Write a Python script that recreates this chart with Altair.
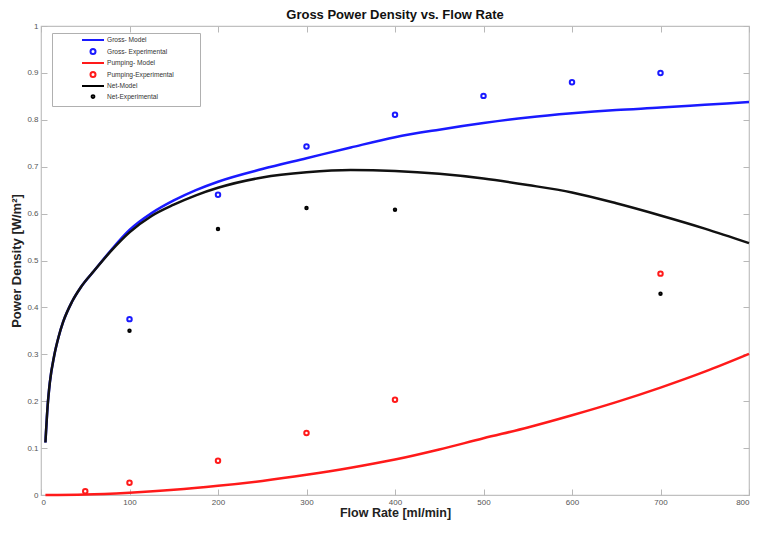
import altair as alt
import pandas as pd

# ---- data ----
model_x = [5, 7.5, 10, 15, 20, 25, 35, 45, 60, 80, 100, 125, 150, 175, 200, 250,
           300, 350, 400, 450, 500, 550, 600, 650, 700, 750, 800]
gross_model = [0.112, 0.190, 0.240, 0.298, 0.338, 0.369, 0.412, 0.443, 0.478, 0.524,
               0.565, 0.601, 0.628, 0.650, 0.668, 0.695, 0.718, 0.741, 0.763, 0.779,
               0.793, 0.805, 0.814, 0.821, 0.826, 0.832, 0.838]
net_model = [0.112, 0.190, 0.240, 0.298, 0.338, 0.369, 0.412, 0.443, 0.478, 0.522,
             0.560, 0.595, 0.619, 0.639, 0.655, 0.677, 0.688, 0.693, 0.691, 0.685,
             0.675, 0.661, 0.645, 0.622, 0.596, 0.568, 0.537]
pump_x = [5, 50, 100, 150, 200, 250, 300, 350, 400, 450, 500, 550, 600, 650, 700, 750, 800]
pump_model = [0.0, 0.001, 0.005, 0.011, 0.0195, 0.030, 0.043, 0.058, 0.0755, 0.097,
              0.121, 0.144, 0.170, 0.198, 0.229, 0.263, 0.301]

gross_exp_x = [100, 200, 300, 400, 500, 600, 700]
gross_exp = [0.375, 0.640, 0.743, 0.811, 0.851, 0.880, 0.900]
pump_exp_x = [50, 100, 200, 300, 400, 700]
pump_exp = [0.008, 0.026, 0.073, 0.132, 0.203, 0.472]
net_exp_x = [100, 200, 300, 400, 700]
net_exp = [0.350, 0.567, 0.612, 0.608, 0.429]

series = ["Gross- Model", "Gross- Experimental", "Pumping- Model",
          "Pumping-Experimental", "Net-Model", "Net-Experimental"]
colors = ["#1a1aff", "#1a1aff", "#ff1a1a", "#ff1a1a", "#000000", "#000000"]
line_sym = "M-4.4,0L4.4,0"
dot_sym = "M-0.55,0A0.55,0.55 0 1,0 0.55,0A0.55,0.55 0 1,0 -0.55,0Z"
shapes = [line_sym, "circle", line_sym, "circle", line_sym, dot_sym]

gross_df = pd.DataFrame({"x": model_x, "y": gross_model})
net_df = pd.DataFrame({"x": model_x, "y": net_model})
pump_df = pd.DataFrame({"x": pump_x, "y": pump_model})
exp_df = pd.concat([
    pd.DataFrame({"x": gross_exp_x, "y": gross_exp, "s": series[1]}),
    pd.DataFrame({"x": pump_exp_x, "y": pump_exp, "s": series[3]}),
    pd.DataFrame({"x": net_exp_x, "y": net_exp, "s": series[5]}),
])

FONT = "Liberation Sans"
xscale = alt.Scale(domain=[0, 800], nice=False)
yscale = alt.Scale(domain=[0, 1], nice=False)
xvals = list(range(0, 801, 100))
yvals = [i / 10 for i in range(11)]

x_main = alt.X("x:Q", scale=xscale, axis=alt.Axis(
    orient="bottom", values=xvals, format="d", title="Flow Rate [ml/min]",
    offset=-6, tickSize=6, domain=False, grid=False, labelPadding=3,
    labelFontSize=8, labelColor="#555555", labelFont=FONT, tickColor="#b8b8b8",
    titleFont=FONT, titleFontSize=12.5, titleFontWeight="bold", titleColor="#222222",
    titlePadding=0))
y_main = alt.Y("y:Q", scale=yscale, axis=alt.Axis(
    orient="left", values=yvals, format="~g", title="Power Density [W/m²]",
    offset=-6, tickSize=6, domain=False, grid=False, labelPadding=3,
    labelFontSize=8, labelColor="#555555", labelFont=FONT, tickColor="#b8b8b8",
    titleFont=FONT, titleFontSize=13, titleFontWeight="bold", titleColor="#222222",
    titlePadding=3))

gross_line = alt.Chart(gross_df).mark_line(color="#1a1aff", strokeWidth=2.5,
                                           interpolate="monotone").encode(x=x_main, y=y_main)
net_line = alt.Chart(net_df).mark_line(color="#111111", strokeWidth=2.5,
                                       interpolate="monotone").encode(
    x=alt.X("x:Q", scale=xscale, axis=None), y=alt.Y("y:Q", scale=yscale, axis=None))
pump_line = alt.Chart(pump_df).mark_line(color="#ff1a1a", strokeWidth=2.5,
                                         interpolate="monotone").encode(
    x=alt.X("x:Q", scale=xscale, axis=None), y=alt.Y("y:Q", scale=yscale, axis=None))

pts = alt.Chart(exp_df).mark_point(filled=False, strokeWidth=2, size=20, opacity=1).encode(
    x=alt.X("x:Q", scale=xscale, axis=alt.Axis(
        orient="top", values=xvals, labels=False, title=None, offset=-6, tickSize=6,
        domain=False, grid=False, tickColor="#b8b8b8")),
    y=alt.Y("y:Q", scale=yscale, axis=alt.Axis(
        orient="right", values=yvals, labels=False, title=None, offset=-6, tickSize=6,
        domain=False, grid=False, tickColor="#b8b8b8")),
    color=alt.Color("s:N", scale=alt.Scale(domain=series, range=colors), legend=alt.Legend(
        orient="none", legendX=11, legendY=7, title="\u00a0", titleOrient="right",
        titlePadding=23, titleFontSize=6, strokeColor="#b0b0b0",
        fillColor="white", padding=3.5, symbolSize=25, symbolStrokeWidth=2,
        symbolOffset=34, labelOffset=10.5, labelFontSize=6.6, labelFont=FONT,
        labelColor="#333333", rowPadding=0.5)),
    shape=alt.Shape("s:N", scale=alt.Scale(domain=series, range=shapes)),
)

chart = alt.layer(gross_line, net_line, pump_line, pts).resolve_axis(
    x="independent", y="independent"
).properties(
    width=708, height=469,
    autosize=alt.AutoSizeParams(type="none"),
    padding={"left": 33, "top": 18, "right": 1, "bottom": 26},
    title=alt.TitleParams("Gross Power Density vs. Flow Rate", font=FONT, fontSize=13,
                          fontWeight="bold", color="#111111", offset=0),
).configure_view(stroke="#c0c0c0", strokeWidth=1.2)

chart.save("out.html", embed_options={"renderer": "svg", "actions": False})
